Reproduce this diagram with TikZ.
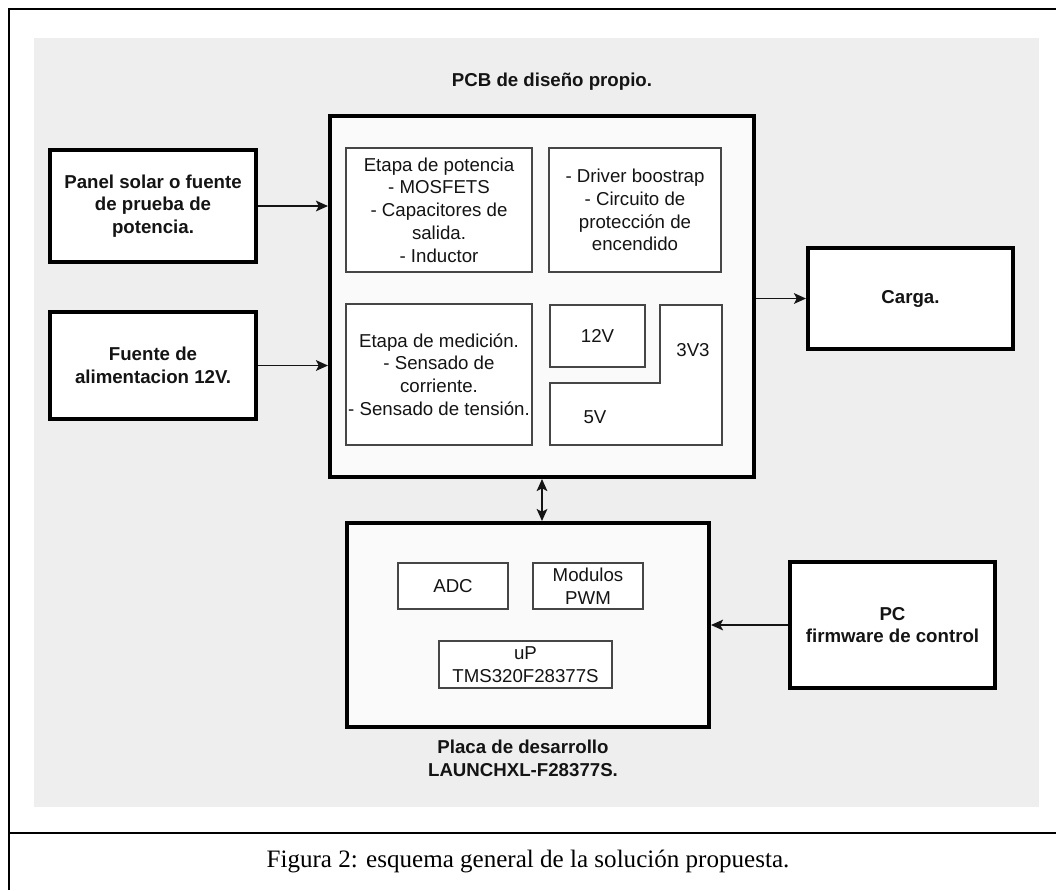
\documentclass[tikz,border=0pt]{standalone}
\usepackage{fontspec}
\setmainfont{Liberation Serif}
\setsansfont{Liberation Sans}
\usepackage{tikz}
\usetikzlibrary{positioning, arrows.meta, calc}
\definecolor{ink}{RGB}{20,20,20}
\definecolor{wall}{RGB}{238,238,238}
\definecolor{board}{RGB}{250,250,250}
\definecolor{edge}{RGB}{70,70,70}
\newcommand{\boxfont}{\sffamily\fontsize{14}{17.1}\selectfont}

\begin{document}
\begin{tikzpicture}[x=0.75pt, y=-0.75pt,
    sz/.style 2 args={minimum width=0.75*#1, minimum height=0.75*#2},
    blk/.style={draw=black, line width=3pt, fill=white, font=\boxfont\bfseries, text=ink,
                align=center, inner sep=0pt},
    brd/.style={blk, fill=board},
    sub/.style={draw=edge, line width=1.1pt, fill=white, font=\boxfont, text=ink,
                align=center, inner sep=0pt},
    ttl/.style={font=\boxfont\bfseries, text=ink, align=center},
    wire/.style={-{Stealth[length=9pt, width=8pt, inset=2pt]}, draw=ink, line width=1.1pt},
    wire2/.style={wire, {Stealth[length=9pt, width=8pt, inset=2pt]}-{Stealth[length=9pt, width=8pt, inset=2pt]}}
  ]
  \useasboundingbox (0,0) rectangle (1056,890);
  % frame and caption
  \draw[line width=1.5pt] (9,890) -- (9,9) -- (1056,9);
  \draw[line width=1.5pt] (9,833) -- (1056,833);
  \node[font=\rmfamily\fontsize{18.8}{22}\selectfont] (cap) at (528,861)
       {Figura 2: esquema general de la solución propuesta.};
  \fill[wall] (34,38) rectangle (1039,807);

  % outer blocks
  \node[blk, sz={206}{112}] (panel) at (153,206)
       {Panel solar o fuente\\de prueba de\\potencia.};
  \node[blk, sz={206}{107}] (fuente) at (153,365.5)
       {Fuente de\\alimentacion 12V.};
  \node[blk, sz={205}{101}] (carga) at (910.5,298.5) {Carga.};
  \node[blk, sz={205}{126}] (pc) at (892.5,625)
       {PC\\firmware de control};

  % PCB
  \node[ttl] (pcbtitle) at (552,82) {PCB de diseño propio.};
  \node[brd, sz={424}{361}] (pcb) at (542,296.5) {};
  \node[sub, sz={186}{124}] (potencia) at (439,210)
       {Etapa de potencia\\- MOSFETS\\- Capacitores de\\salida.\\- Inductor};
  \node[sub, sz={172}{124}] (driver) at (635,210)
       {- Driver boostrap\\- Circuito de\\protección de\\encendido};
  \node[sub, sz={186}{141}] (medicion) at (439,374.5)
       {Etapa de medición.\\- Sensado de\\corriente.\\- Sensado de tensión.};
  \node[sub, sz={95}{62}] (v12) at (597.5,336) {12V};
  \draw[sub] (550,383) -- (660,383) -- (660,305) -- (722,305) -- (722,445)
       -- (550,445) -- cycle;
  \node[font=\boxfont, text=ink] (v33) at (693,350) {3V3};
  \node[font=\boxfont, text=ink] (v5) at (595,417) {5V};

  % launchpad
  \node[brd, sz={362}{204}] (placa) at (528,625) {};
  \node[sub, sz={110}{46}] (adc) at (453,586) {ADC};
  \node[sub, sz={110}{46}] (pwm) at (588,586) {Modulos\\PWM};
  \node[sub, sz={173}{47}] (up) at (525.5,664.5)
       {uP\\TMS320F28377S};
  \node[ttl] (placatitle) at (523,758) {Placa de desarrollo\\LAUNCHXL-F28377S.};

  % links
  \draw[wire] (panel.east) -- (panel.east -| pcb.west);
  \draw[wire] (fuente.east) -- (fuente.east -| pcb.west);
  \draw[wire] (pcb.east |- carga.west) -- (carga.west);
  \draw[wire2] (pcb.south) -- (pcb.south |- placa.north);
  \draw[wire] (pc.west) -- (placa.east);
\end{tikzpicture}
\end{document}
